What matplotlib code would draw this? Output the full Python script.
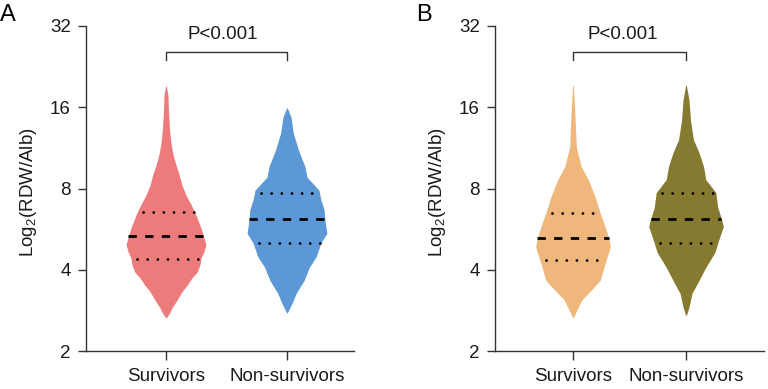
import numpy as np
import matplotlib
matplotlib.use('Agg')
import matplotlib.pyplot as plt

plt.rcParams['font.family'] = ['Liberation Sans', 'DejaVu Sans']
plt.rcParams['mathtext.fontset'] = 'custom'
plt.rcParams['mathtext.rm'] = 'Liberation Sans'
plt.rcParams['mathtext.it'] = 'Liberation Sans:italic'

# ---------------- data ----------------
categories = ['Survivors', 'Non-survivors']
ytick_values = [2, 4, 8, 16, 32]
panel_labels = ['A', 'B']
p_text = 'P<0.001'
ylabel = 'Log$_{2}$(RDW/Alb)'

# violin outlines: log2(RDW/Alb) level and relative density (max = 1)
a_surv_log2 = [4.26, 4.15, 3.97, 3.72, 3.54, 3.41, 3.29, 3.17, 3.04, 2.92, 2.80, 2.70, 2.61,
               2.51, 2.43, 2.31, 2.22, 2.15, 2.06, 1.97, 1.90, 1.81, 1.73, 1.63, 1.53, 1.46, 1.41]
a_surv_dens = [0.01, 0.05, 0.06, 0.09, 0.13, 0.18, 0.25, 0.33, 0.40, 0.50, 0.63, 0.73, 0.80,
               0.88, 0.93, 1.00, 0.95, 0.88, 0.85, 0.78, 0.65, 0.53, 0.40, 0.28, 0.15, 0.08, 0.01]

a_non_log2 = [3.99, 3.88, 3.68, 3.47, 3.27, 3.14, 2.98, 2.86, 2.74, 2.61, 2.45, 2.33, 2.16,
              2.03, 1.87, 1.71, 1.59, 1.47]
a_non_dens = [0.01, 0.10, 0.16, 0.29, 0.45, 0.50, 0.80, 0.85, 0.93, 0.95, 1.00, 0.85, 0.73,
              0.56, 0.43, 0.23, 0.13, 0.01]

b_surv_log2 = [4.27, 3.93, 3.51, 3.27, 3.11, 2.90, 2.70, 2.53, 2.37, 2.28, 2.12, 2.00, 1.87,
               1.75, 1.63, 1.51, 1.41]
b_surv_dens = [0.01, 0.05, 0.09, 0.22, 0.41, 0.59, 0.73, 0.86, 0.97, 1.00, 0.89, 0.81, 0.73,
               0.49, 0.24, 0.11, 0.01]

b_non_log2 = [4.27, 4.09, 3.84, 3.60, 3.44, 3.27, 3.11, 2.95, 2.77, 2.61, 2.53, 2.37, 2.21,
              2.03, 1.87, 1.71, 1.54, 1.44]
b_non_dens = [0.01, 0.08, 0.12, 0.20, 0.35, 0.47, 0.53, 0.80, 0.85, 0.96, 1.00, 0.88, 0.77,
              0.53, 0.35, 0.16, 0.08, 0.01]

# quartiles (Q1, median, Q3) in log2 units
a_surv_quart = [2.13, 2.41, 2.71]
a_non_quart = [2.33, 2.63, 2.95]
b_surv_quart = [2.12, 2.39, 2.70]
b_non_quart = [2.33, 2.63, 2.95]

colors_a = ['#EE7B7B', '#5B98D5']
colors_b = ['#F0B77C', '#857A30']

panels = [
    dict(label='A', profiles=[(a_surv_log2, a_surv_dens, a_surv_quart),
                              (a_non_log2, a_non_dens, a_non_quart)],
         colors=colors_a, rect=[86 / 768, 38 / 389, 268 / 768, 325 / 389],
         xlim=(-0.661, 1.554), ptext_x=0.47, lab_x=0 / 768),
    dict(label='B', profiles=[(b_surv_log2, b_surv_dens, b_surv_quart),
                              (b_non_log2, b_non_dens, b_non_quart)],
         colors=colors_b, rect=[495 / 768, 38 / 389, 269 / 768, 325 / 389],
         xlim=(-0.69, 1.69), ptext_x=0.44, lab_x=416 / 768),
]

HALF_WIDTH = 0.33
FS = 13.5
axis_color = '#333333'

fig = plt.figure(figsize=(7.68, 3.89), dpi=100)

for p in panels:
    ax = fig.add_axes(p['rect'])
    for i, ((lv, dens, q), col) in enumerate(zip(p['profiles'], p['colors'])):
        lv = np.asarray(lv)
        w = np.asarray(dens) * HALF_WIDTH
        ax.fill_betweenx(lv, i - w, i + w, color=col, lw=0)
        # quartile lines
        order = np.argsort(lv)
        for k, qv in enumerate(q):
            hw = np.interp(qv, lv[order], w[order])
            if k == 1:
                ax.plot([i - hw, i + hw], [qv, qv], color='black', lw=2.0,
                        linestyle=(0, (3, 3)), solid_capstyle='butt',
                        dash_capstyle='butt')
            else:
                ax.plot([i - hw, i + hw], [qv, qv], color='black', lw=2.0,
                        linestyle=(1.5, (0.05, 3.6)), dash_capstyle='round')

    ax.set_xlim(*p['xlim'])
    ax.set_ylim(1, 5)
    ax.set_yticks(np.log2(ytick_values))
    ax.set_yticklabels([str(v) for v in ytick_values], fontsize=FS)
    ax.set_xticks(range(len(categories)))
    ax.set_xticklabels(categories, fontsize=FS)
    for s in ['top', 'right']:
        ax.spines[s].set_visible(False)
    for s in ['left', 'bottom']:
        ax.spines[s].set_color(axis_color)
        ax.spines[s].set_linewidth(1.0)
    ax.tick_params(axis='both', length=6, width=1.0, color=axis_color, pad=5,
                   labelcolor='#1a1a1a')
    ax.tick_params(axis='x', length=6.5, pad=6)
    ax.set_ylabel(ylabel, fontsize=FS, color='#1a1a1a')
    ax.yaxis.set_label_coords(-0.175, 0.49)

    # significance bracket
    ax.plot([0, 0, 1, 1], [4.58, 4.684, 4.684, 4.58], color=axis_color, lw=1.0,
            clip_on=False)
    ax.text(p['ptext_x'], 4.89, p_text, ha='center', va='center', fontsize=FS,
            color='#1a1a1a')

    fig.text(p['lab_x'], 1 - 15 / 389, p['label'], fontsize=17, ha='left', va='center',
             color='black')

fig.savefig('out.png', dpi=100)
